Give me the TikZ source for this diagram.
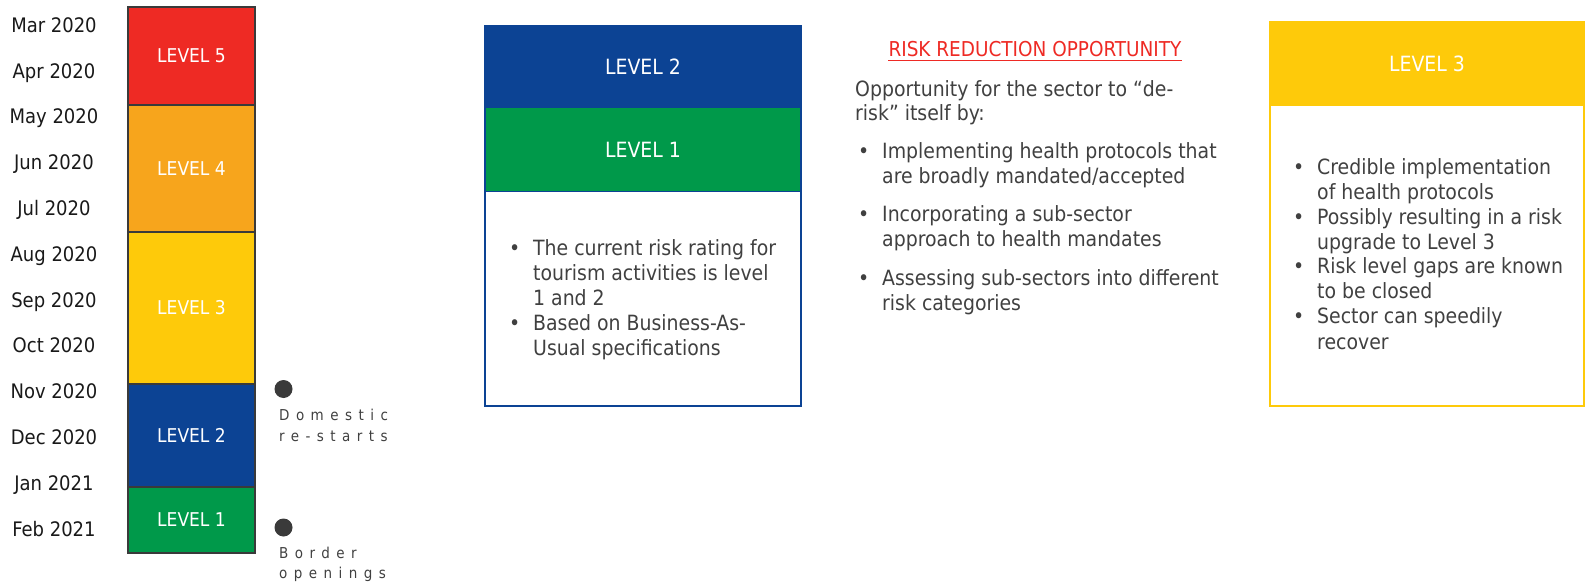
\documentclass[tikz,border=0pt]{standalone}
\usepackage{fontspec}
\setmainfont{DejaVu Sans Condensed}
\newfontfamily\spacedfont[LetterSpace=43]{DejaVu Sans Condensed}
\definecolor{lvred}{HTML}{EE2A24}
\definecolor{lvorange}{HTML}{F7A51C}
\definecolor{lvyellow}{HTML}{FECA0A}
\definecolor{lvblue}{HTML}{0C4394}
\definecolor{lvgreen}{HTML}{00994A}
\definecolor{txtgray}{HTML}{404040}
\definecolor{edgegray}{HTML}{3A3A3A}
\definecolor{hdrred}{HTML}{EE2A24}
\begin{document}
\begin{tikzpicture}[x=1pt,y=-1pt,
  seg/.style={draw=edgegray,line width=1.4pt,minimum width=127pt,inner sep=0pt,outer sep=0pt,
    text=white,font=\fontsize{19}{23}\selectfont},
  month/.style={text=black!90,font=\fontsize{20}{24}\selectfont,inner sep=0pt,anchor=base},
  hdr/.style={minimum width=316pt,inner sep=0pt,outer sep=0pt,text=white,font=\fontsize{21}{25}\selectfont},
  body/.style={text=txtgray,font=\fontsize{21}{25}\selectfont,inner sep=0pt,anchor=base west},
  dot/.style={circle,fill=edgegray,minimum size=18pt,inner sep=0pt},
  spaced/.style={text=txtgray,font=\spacedfont\fontsize{15}{18}\selectfont,inner sep=0pt,anchor=base west}
]
\useasboundingbox (0,0) rectangle (1585,583);

% left timeline column
\node[seg,fill=lvred,minimum height=98pt] (l5) at (191.5,56) {LEVEL 5};
\node[seg,fill=lvorange,minimum height=127pt] (l4) at (191.5,168.5) {LEVEL 4};
\node[seg,fill=lvyellow,minimum height=152pt] (l3) at (191.5,308) {LEVEL 3};
\node[seg,fill=lvblue,minimum height=103pt] (l2) at (191.5,435.5) {LEVEL 2};
\node[seg,fill=lvgreen,minimum height=66pt] (l1) at (191.5,520) {LEVEL 1};

% months
\foreach \m [count=\i from 0] in {Mar 2020,Apr 2020,May 2020,Jun 2020,Jul 2020,
  Aug 2020,Sep 2020,Oct 2020,Nov 2020,Dec 2020,Jan 2021,Feb 2021}
  \node[month] (m\i) at (54,32.3+45.8*\i) {\m};

% milestones
\node[dot] (d1) at (283.5,389) {};
\node[dot] (d2) at (283.5,527.5) {};
\node[spaced] (d1a) at (279,420) {Domestic};
\node[spaced] (d1b) at (279,441) {re-starts};
\node[spaced] (d2a) at (279,558) {Border};
\node[spaced] (d2b) at (279,578) {openings};

% middle box
\node[hdr,fill=lvblue,minimum height=82pt] (c2) at (643,67) {LEVEL 2};
\node[hdr,fill=lvgreen,minimum height=83pt] (c1) at (643,149.5) {LEVEL 1};
\node[minimum width=316pt,minimum height=215pt,inner sep=0pt,outer sep=0pt] (cb) at (643,298.5) {};
\draw[lvblue,line width=1.5pt] (c2.north west) rectangle (cb.south east);
\draw[lvblue,line width=1pt] (c1.south west) -- (c1.south east);
\node[body] (cbu1) at (509,255) {•};
\node[body] (ct1) at (533,255) {The current risk rating for};
\node[body] (ct2) at (533,280) {tourism activities is level};
\node[body] (ct3) at (533,305) {1 and 2};
\node[body] (cbu2) at (509,330) {•};
\node[body] (ct4) at (533,330) {Based on Business-As-};
\node[body] (ct5) at (533,355) {Usual specifications};

% risk reduction text
\node[text=hdrred,font=\fontsize{20.5}{24}\selectfont,inner sep=0pt,anchor=base] (rh) at (1035,56.5) {RISK REDUCTION OPPORTUNITY};
\draw[hdrred,line width=1pt] ([yshift=-4pt]rh.base west) -- ([yshift=-4pt]rh.base east);
\node[body] (r0a) at (855,96.5) {Opportunity for the sector to “de-};
\node[body] (r0b) at (855,120.5) {risk” itself by:};
\node[body] (rb1) at (858,158) {•};
\node[body] (r1a) at (882,158) {Implementing health protocols that};
\node[body] (r1b) at (882,183) {are broadly mandated/accepted};
\node[body] (rb2) at (858,221.5) {•};
\node[body] (r2a) at (882,221.5) {Incorporating a sub-sector};
\node[body] (r2b) at (882,246.5) {approach to health mandates};
\node[body] (rb3) at (858,285) {•};
\node[body] (r3a) at (882,285) {Assessing sub-sectors into different};
\node[body] (r3b) at (882,310) {risk categories};

% right box
\node[hdr,fill=lvyellow,minimum width=314pt,minimum height=84pt] (y3) at (1427,64) {LEVEL 3};
\node[minimum width=314pt,minimum height=300pt,inner sep=0pt,outer sep=0pt] (yb) at (1427,256) {};
\draw[lvyellow,line width=1.5pt] (y3.north west) rectangle (yb.south east);
\node[body] (yb1) at (1293,175) {•};
\node[body] (y1a) at (1317,175) {Credible implementation};
\node[body] (y1b) at (1317,199) {of health protocols};
\node[body] (yb2) at (1293,224) {•};
\node[body] (y2a) at (1317,224) {Possibly resulting in a risk};
\node[body] (y2b) at (1317,249) {upgrade to Level 3};
\node[body] (yb3) at (1293,273) {•};
\node[body] (y3a) at (1317,273) {Risk level gaps are known};
\node[body] (y3b) at (1317,298) {to be closed};
\node[body] (yb4) at (1293,323) {•};
\node[body] (y4a) at (1317,323) {Sector can speedily};
\node[body] (y4b) at (1317,349) {recover};
\end{tikzpicture}
\end{document}
